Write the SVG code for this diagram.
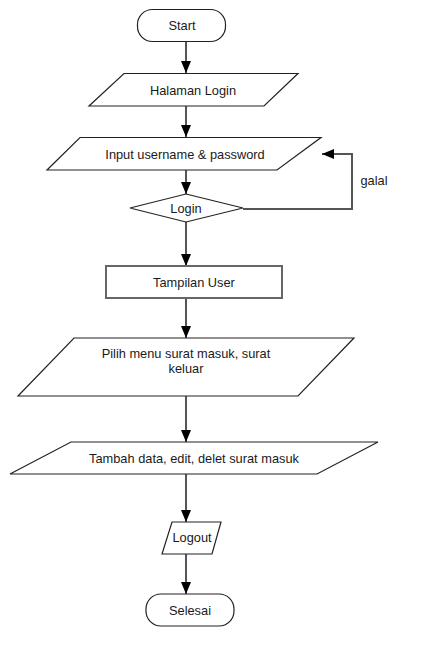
<svg xmlns="http://www.w3.org/2000/svg" width="427" height="666" viewBox="0 0 427 666">
<defs>
<style>
.t{font-family:"Liberation Sans",Arial,sans-serif;font-size:12.8px;fill:#1a1a1a;text-anchor:middle}
.sh{fill:#fff;stroke:#222;stroke-width:1.2}
.bx{fill:#fff;stroke:#666;stroke-width:2}
.c{fill:none;stroke:#555;stroke-width:2;marker-end:url(#ah)}
</style>
<marker id="ah" viewBox="0 0 12 10" refX="12" refY="5" markerWidth="12" markerHeight="10" markerUnits="userSpaceOnUse" orient="auto">
<path d="M0,0 L12,5 L0,10 z" fill="#000"/>
</marker>
</defs>
<rect width="427" height="666" fill="#fff"/>
<g id="connectors">
<path class="c" d="M186,42 V73"/>
<path class="c" d="M186,106 V137"/>
<path class="c" d="M186,170 V194"/>
<path class="c" d="M243,209 H352 V154 H322"/>
<path class="c" d="M186,222 V266"/>
<path class="c" d="M186,298 V338"/>
<path class="c" d="M186,396 V442"/>
<path class="c" d="M186,474 V522"/>
<path class="c" d="M186,554 V594"/>
<text class="t" x="374" y="185">galal</text>
</g>
<g id="start">
<rect class="sh" x="137.5" y="9.5" width="88" height="32" rx="15" ry="15"/>
<text class="t" x="182" y="30">Start</text>
</g>
<g id="halaman-login">
<polygon class="sh" points="124,73.5 298,73.5 264,106 89,106"/>
<text class="t" x="193" y="94.5">Halaman Login</text>
</g>
<g id="input">
<polygon class="sh" points="80,137.5 321,137.5 277,170 47,170"/>
<text class="t" x="185" y="158.5">Input username &amp; password</text>
</g>
<g id="login">
<polygon class="sh" points="186,194 243,208 186,222 130,208"/>
<text class="t" x="186" y="212.5">Login</text>
</g>
<g id="tampilan-user">
<rect class="bx" x="106" y="266" width="176" height="32"/>
<text class="t" x="194" y="286.5">Tampilan User</text>
</g>
<g id="pilih-menu">
<polygon class="sh" points="74,338 354,338 298,396 18,396"/>
<text class="t" x="186" y="358"><tspan x="186">Pilih menu surat masuk, surat</tspan><tspan x="186" dy="14.5">keluar</tspan></text>
</g>
<g id="tambah-data">
<polygon class="sh" points="71,442 378,442 317,474 10,474"/>
<text class="t" x="194" y="462.5">Tambah data, edit, delet surat masuk</text>
</g>
<g id="logout">
<polygon class="sh" points="172,522 221,522 212,554 162,554"/>
<text class="t" x="192" y="541.5">Logout</text>
</g>
<g id="selesai">
<rect class="sh" x="146" y="594" width="88" height="32" rx="15" ry="15"/>
<text class="t" x="190" y="614.5">Selesai</text>
</g>
</svg>
